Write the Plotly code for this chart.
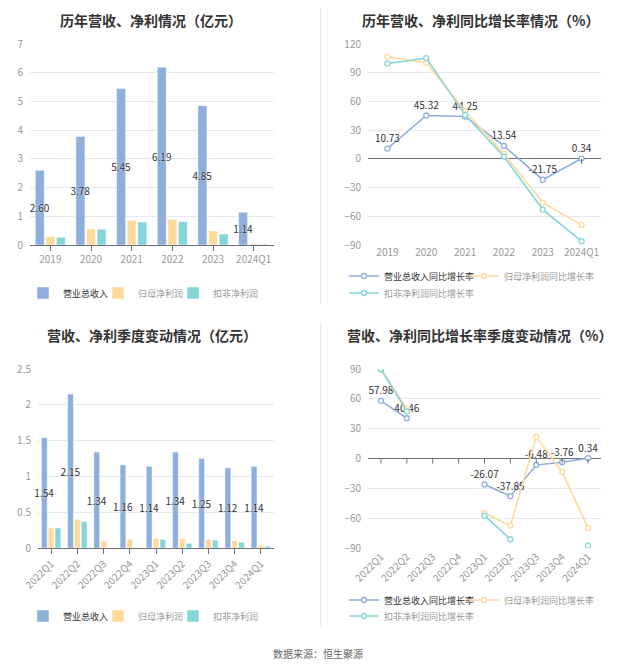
import plotly.graph_objects as go
from plotly.subplots import make_subplots

years = ['2019', '2020', '2021', '2022', '2023', '2024Q1']
revenue = [2.60, 3.78, 5.45, 6.19, 4.85, 1.14]
net_profit = [0.29, 0.56, 0.86, 0.89, 0.49, 0.045]
net_profit_kf = [0.27, 0.55, 0.80, 0.82, 0.38, 0.03]

revenue_yoy = [10.73, 45.32, 44.25, 13.54, -21.75, 0.34]
net_profit_yoy = [106.6, 100.3, 50.0, 5.2, -45.7, -69.0]
net_profit_kf_yoy = [99.6, 105.2, 46.0, 2.4, -53.0, -86.0]

quarters = ['2022Q1', '2022Q2', '2022Q3', '2022Q4', '2023Q1',
            '2023Q2', '2023Q3', '2023Q4', '2024Q1']
q_revenue = [1.54, 2.15, 1.34, 1.16, 1.14, 1.34, 1.25, 1.12, 1.14]
q_net_profit = [0.28, 0.40, 0.10, 0.12, 0.13, 0.13, 0.12, 0.10, 0.04]
q_net_profit_kf = [0.28, 0.37, None, None, 0.12, 0.065, 0.11, 0.08, 0.025]

q_revenue_yoy = [57.98, 40.46, None, None, -26.07, -37.85, -6.48, -3.76, 0.34]
q_net_profit_yoy = [89.5, 50.0, None, None, -54.8, -67.6, 22.0, -13.5, -70.0]
q_net_profit_kf_yoy = [90.0, 47.4, None, None, -57.5, -81.2, None, None, -87.6]

# the page body has an 8px margin, so the figure is a bit smaller
# and reference pixel positions are shifted by 8px
OFF = 8
W, H = 637 - 2 * OFF, 668 - 2 * OFF
FONT = 'Noto Sans CJK SC'
BLUE = '#8eaedc'
YELLOW = '#ffd99c'
TEAL = '#86d6d8'
GRID = '#e6e9f1'
AXIS = '#6e7079'
GREY = '#999999'


def px(x):
    return (x - OFF) / W


def py(y):
    return 1 - (y - OFF) / H


def grey(s):
    return f'<span style="color:#9a9a9a">{s}</span>'


fig = make_subplots(rows=2, cols=2)
legends = {}


def add_legend(lid, text_x, y):
    legends[lid] = dict(x=px(text_x - 46), y=py(y), orientation='h',
                        font=dict(size=9, color='#333', family=FONT),
                        bgcolor='rgba(0,0,0,0)', xanchor='left',
                        yanchor='middle', itemclick=False)


def add_bars(cats, series, row, col, lids):
    for i, (name, vals, col_) in enumerate(series):
        fig.add_trace(go.Bar(
            x=cats, y=vals, name=name, marker_color=col_,
            marker_line=dict(color='rgba(255,255,255,0.6)', width=0.8),
            legend=lids[i], cliponaxis=False,
            texttemplate='%{y:.2f}' if i == 0 else None,
            textposition='inside' if i == 0 else 'none',
            insidetextanchor='middle', constraintext='none', textangle=0,
            insidetextfont=dict(size=10, color='#333',
                                shadow='0px 0px 2px white'),
            hoverinfo='skip'), row, col)


def add_lines(cats, series, row, col, lids):
    for i, (name, vals, col_) in enumerate(series):
        first = i == 0
        fig.add_trace(go.Scatter(
            x=cats, y=vals, name=name, legend=lids[i],
            mode='lines+markers+text' if first else 'lines+markers',
            line=dict(color=col_, width=1.6),
            marker=dict(symbol='circle', size=5, color='white',
                        line=dict(color=col_, width=1.3)),
            text=[('' if v is None else f'{v:.2f}') for v in vals] if first else None,
            textposition='top center',
            textfont=dict(size=10, color='#333', shadow='0px 0px 2px white'),
            hoverinfo='skip'), row, col)


# 历年营收、净利情况
add_bars(years, [('营业总收入', revenue, BLUE),
                 (grey('归母净利润'), net_profit, YELLOW),
                 (grey('扣非净利润'), net_profit_kf, TEAL)],
         1, 1, ['legend', 'legend2', 'legend3'])
add_legend('legend', 69, 293)
add_legend('legend2', 144, 293)
add_legend('legend3', 219, 293)

# 营收、净利季度变动情况
add_bars(quarters, [('营业总收入', q_revenue, BLUE),
                    (grey('归母净利润'), q_net_profit, YELLOW),
                    (grey('扣非净利润'), q_net_profit_kf, TEAL)],
         2, 1, ['legend4', 'legend5', 'legend6'])
add_legend('legend4', 69, 616)
add_legend('legend5', 144, 616)
add_legend('legend6', 219, 616)

# 同比增长率
yoy = [('营业总收入同比增长率', revenue_yoy, BLUE),
       (grey('归母净利润同比增长率'), net_profit_yoy, YELLOW),
       (grey('扣非净利润同比增长率'), net_profit_kf_yoy, TEAL)]
q_yoy = [('营业总收入同比增长率', q_revenue_yoy, BLUE),
         (grey('归母净利润同比增长率'), q_net_profit_yoy, YELLOW),
         (grey('扣非净利润同比增长率'), q_net_profit_kf_yoy, TEAL)]
add_lines(years, yoy, 1, 2, ['legend7', 'legend8', 'legend9'])
add_legend('legend7', 390, 276)
add_legend('legend8', 510, 276)
add_legend('legend9', 390, 293)
add_lines(quarters, q_yoy, 2, 2, ['legend10', 'legend11', 'legend12'])
add_legend('legend10', 390, 600)
add_legend('legend11', 510, 600)
add_legend('legend12', 390, 616)

# domains (reference pixels)
dom_x_left = [px(30), px(274)]
dom_x_left_q = [px(38), px(274)]
dom_x_right = [px(368), px(601)]
dom_y_top = [py(245), py(44)]
dom_y_bot = [py(548), py(369)]

tickfont = dict(size=10, color=GREY, family=FONT)
common_x = dict(type='category', showgrid=False, zeroline=False,
                tickfont=tickfont, ticklen=5, tickcolor=AXIS)
common_y = dict(showgrid=True, gridcolor=GRID, gridwidth=1, showline=False,
                tickfont=tickfont, ticks='', ticklabelstandoff=6)

fig.update_xaxes(domain=dom_x_left, showline=True, linecolor=AXIS,
                 ticks='outside', tickangle=0, **common_x, row=1, col=1)
fig.update_xaxes(domain=dom_x_right, showline=False, ticks='', tickangle=0,
                 range=[-0.5, 5.5], **common_x, row=1, col=2)
fig.update_xaxes(domain=dom_x_left_q, showline=True, linecolor=AXIS,
                 ticks='outside', tickangle=-45, **common_x, row=2, col=1)
fig.update_xaxes(domain=dom_x_right, showline=False, ticks='',
                 range=[-0.5, 8.5], tickangle=-45, **common_x, row=2, col=2)

fig.update_yaxes(domain=dom_y_top, range=[0, 7], dtick=1, zeroline=False,
                 **common_y, row=1, col=1)
fig.update_yaxes(domain=dom_y_top, range=[-90, 120], dtick=30,
                 zeroline=True, zerolinecolor=AXIS, zerolinewidth=1,
                 **common_y, row=1, col=2)
fig.update_yaxes(domain=dom_y_bot, range=[0, 2.5], dtick=0.5, zeroline=False,
                 **common_y, row=2, col=1)
fig.update_yaxes(domain=dom_y_bot, range=[-90, 90], dtick=30,
                 zeroline=True, zerolinecolor=AXIS, zerolinewidth=1,
                 **common_y, row=2, col=2)

# ticks on the zero line for the line charts
shapes = []
for cats, xr, yr in [(years, 'x2', 'y2'), (quarters, 'x4', 'y4')]:
    for c in cats:
        shapes.append(dict(type='line', xref=xr, yref=yr, x0=c, x1=c,
                           ysizemode='pixel', yanchor=0, y0=0, y1=-5,
                           line=dict(color=AXIS, width=1)))
# separators
shapes.append(dict(type='line', xref='paper', yref='paper',
                   x0=px(320.5), x1=px(320.5), y0=1, y1=py(304),
                   line=dict(color='#e8e8e8', width=1)))
shapes.append(dict(type='line', xref='paper', yref='paper',
                   x0=px(320.5), x1=px(320.5), y0=py(323), y1=py(626),
                   line=dict(color='#e8e8e8', width=1)))

# titles: top row sits against the top of the figure
titles = [
    ('历年营收、净利情况（亿元）', 151, None),
    ('历年营收、净利同比增长率情况（%）', 480, None),
    ('营收、净利季度变动情况（亿元）', 152, 335),
    ('营收、净利同比增长率季度变动情况（%）', 479, 335),
]
annotations = [dict(text=f'<b>{t}</b>', x=px(x),
                    y=1 if y is None else py(y), xref='paper',
                    yref='paper', showarrow=False, xanchor='center',
                    yanchor='top' if y is None else 'middle',
                    font=dict(size=14, color='#333', family=FONT))
               for t, x, y in titles]
annotations.append(dict(text='数据来源：恒生聚源', x=px(318), y=py(653),
                        xref='paper', yref='paper', showarrow=False,
                        xanchor='center', yanchor='middle',
                        font=dict(size=10, color='#666', family=FONT)))

fig.update_layout(
    width=W, height=H, autosize=False,
    margin=dict(l=0, r=0, t=0, b=0, autoexpand=False),
    paper_bgcolor='white', plot_bgcolor='white',
    font=dict(family=FONT),
    barmode='group', bargap=0.22, bargroupgap=0.15,
    showlegend=True,
    shapes=shapes,
    annotations=annotations,
    **legends,
)

fig.write_html('out.html')
